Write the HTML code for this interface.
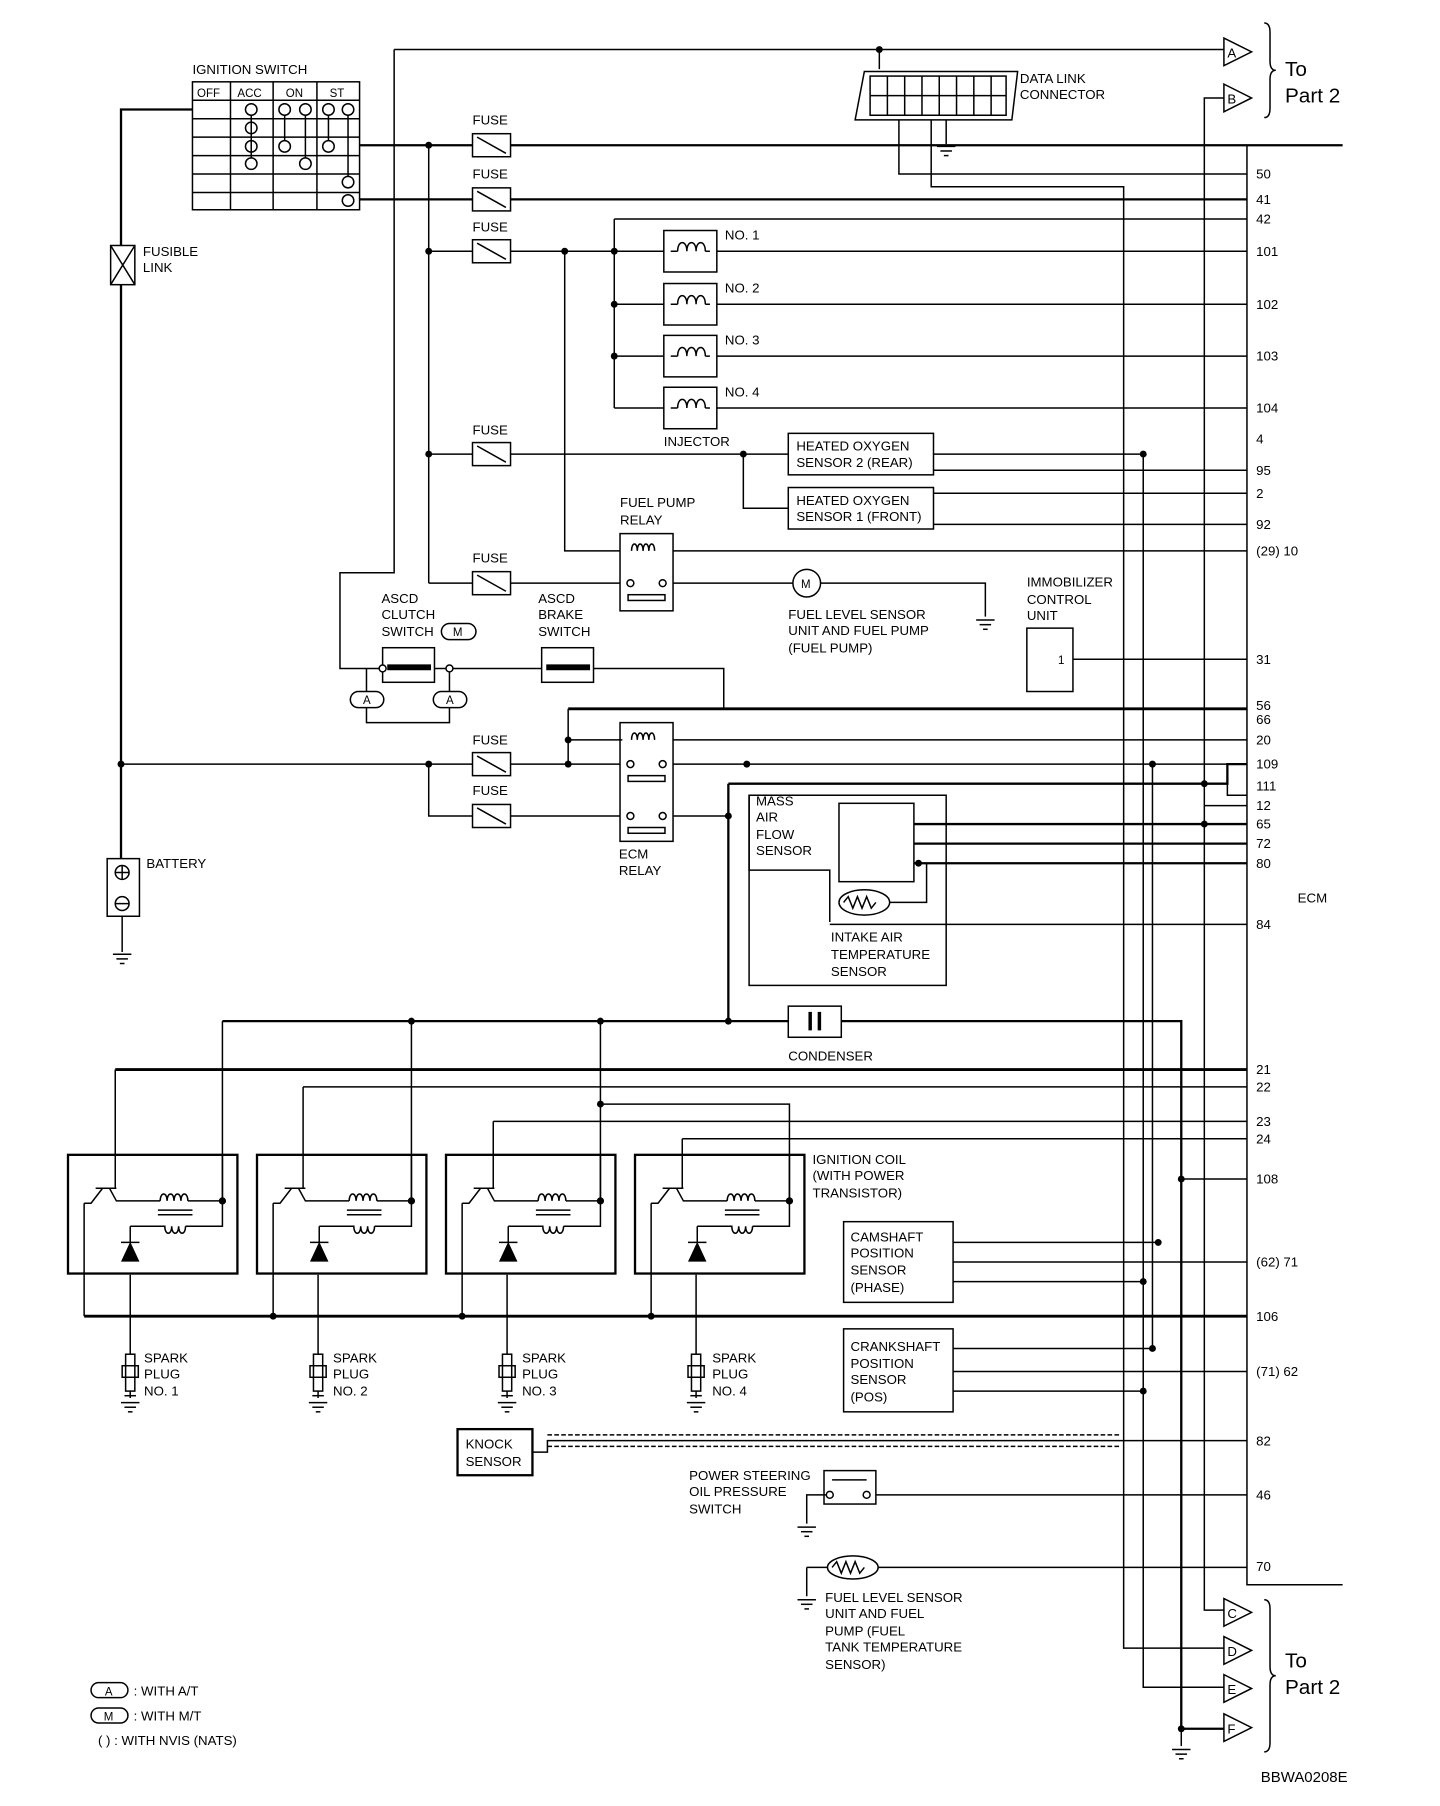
<!DOCTYPE html>
<html><head><meta charset="utf-8"><style>
html,body{margin:0;padding:0;background:#fff}
svg{display:block}
text{font-family:"Liberation Sans",Arial,sans-serif;font-size:11.5px;fill:#000}
.b{font-size:18px}
</style></head><body>
<svg width="1440" height="1806" viewBox="0 0 1249.5 1567" preserveAspectRatio="none" xmlns="http://www.w3.org/2000/svg">
<defs>
<g id="fuse"><rect x="0" y="-10" width="33" height="20" fill="#fff" stroke="#000" stroke-width="1.3"/><line x1="4" y1="-7" x2="29" y2="7" stroke="#000" stroke-width="1.3"/></g>
<g id="inj"><rect x="0" y="-18" width="46" height="36" fill="#fff" stroke="#000" stroke-width="1.3"/><path d="M6,0 H12 M12,0 c0,-10 8,-10 8,0 c0,-10 8,-10 8,0 c0,-10 8,-10 8,0 M36,0 H40" fill="none" stroke="#000" stroke-width="1.3"/></g>
<g id="gnd" stroke="#000" stroke-width="1.3"><line x1="-8" y1="0" x2="8" y2="0"/><line x1="-5" y1="4" x2="5" y2="4"/><line x1="-2" y1="8" x2="2" y2="8"/></g>
<g id="coil" stroke="#000" stroke-width="1.3" fill="none">
<rect x="0" y="0" width="147" height="103" stroke-width="2"/>
<path d="M14,42 H20 L30,29 M24,29 H42 M36,29 L42,40 H80"/>
<path d="M80,40 c0,-8 6,-8 6,0 c0,-8 6,-8 6,0 c0,-8 6,-8 6,0 c0,-8 6,-8 6,0 M104,40 H134"/>
<line x1="78" y1="48" x2="108" y2="48"/><line x1="78" y1="52" x2="108" y2="52"/>
<path d="M54,62 H84 c0,8 6,8 6,0 c0,8 6,8 6,0 c0,8 6,8 6,0 M102,62 H134 V0"/>
<path d="M54,62 V76"/><line x1="46" y1="76" x2="62" y2="76"/>
<polygon points="54,77 47,92 61,92" fill="#000"/>
<circle cx="134" cy="40" r="2.5" fill="#000"/>
</g>
<g id="plug" stroke="#000" stroke-width="1.3" fill="none"><rect x="-4" y="0" width="8" height="32"/><rect x="-7" y="10" width="14" height="10"/><line x1="0" y1="32" x2="0" y2="38"/><line x1="-5" y1="36" x2="5" y2="36"/><use href="#gnd" y="42"/></g>
<path id="tri" d="M0,0 L24,12 L0,24 Z" fill="#fff" stroke="#000" stroke-width="1.3"/>
</defs>
<g stroke="#000" stroke-width="1.3" fill="none">
<rect x="167" y="71" width="145" height="111"/>
<line x1="167" y1="87" x2="312" y2="87"/>
<path d="M200,71V182M237,71V182M275,71V182M167,103H312M167,119H312M167,135H312M167,151H312M167,167H312"/>
<circle cx="218" cy="95" r="5"/><circle cx="247" cy="95" r="5"/><circle cx="265" cy="95" r="5"/><circle cx="285" cy="95" r="5"/><circle cx="302" cy="95" r="5"/>
<circle cx="218" cy="111" r="5"/><circle cx="218" cy="127" r="5"/><circle cx="247" cy="127" r="5"/><circle cx="285" cy="127" r="5"/><circle cx="218" cy="142" r="5"/><circle cx="265" cy="142" r="5"/><circle cx="302" cy="158" r="5"/><circle cx="302" cy="174" r="5"/>
<path d="M218,100V137M247,100V122M265,100V137M285,100V122M302,100V153"/>
<path d="M167,95H105V745" stroke-width="2"/>
<rect x="96" y="213" width="21" height="34" fill="#fff"/><path d="M96,213L117,247M117,213L96,247"/>
<rect x="93" y="745" width="28" height="50" fill="#fff"/>
<circle cx="106" cy="757" r="6"/><circle cx="106" cy="784" r="6"/><path d="M100,757h12M106,751v12M100,784h12"/>
<path d="M106,795V826"/><use href="#gnd" x="106" y="828"/>
<path d="M105,663H410"/>
<path d="M312,126H410M312,173H410" stroke-width="2"/>
<path d="M372,126V506M372,218H410M372,394H410M372,506H410M372,663V708H410"/>
<use href="#fuse" x="410" y="126"/><use href="#fuse" x="410" y="173"/><use href="#fuse" x="410" y="218"/><use href="#fuse" x="410" y="394"/><use href="#fuse" x="410" y="506"/><use href="#fuse" x="410" y="663"/><use href="#fuse" x="410" y="708"/>
<path d="M443,126H1165M443,173H1082" stroke-width="2"/>
<path d="M1082,126V1375H1165"/>
<path d="M443,218H576M533,190V354M533,190H1082M533,264H576M533,309H576M533,354H576"/>
<path d="M622,218H1082M622,264H1082M622,309H1082M622,354H1082"/>
<use href="#inj" x="576" y="218"/><use href="#inj" x="576" y="264"/><use href="#inj" x="576" y="309"/><use href="#inj" x="576" y="354"/>
<path d="M443,394H684M645,394V441H684"/>
<rect x="684" y="376" width="126" height="36" fill="#fff"/><rect x="684" y="423" width="126" height="36" fill="#fff"/>
<path d="M810,394H992M810,408H1082M810,428H1082M810,455H1082"/>
<path d="M490,218V478H540M443,506H540"/>
<rect x="538" y="463" width="46" height="67" fill="#fff"/>
<path d="M548,478c0,-8 5,-8 5,0c0,-8 5,-8 5,0c0,-8 5,-8 5,0c0,-8 5,-8 5,0"/><rect x="545" y="516" width="32" height="5"/><circle cx="547" cy="506" r="3"/><circle cx="575" cy="506" r="3"/>
<path d="M584,478H1082M584,506H688M712,506H855V535"/>
<circle cx="700" cy="506" r="12" fill="#fff"/><use href="#gnd" x="855" y="538"/>
<rect x="891" y="545" width="40" height="55"/><path d="M931,572H1082"/>
<path d="M342,43H1062M342,43V497H295V580H332M377,580H470M515,580H628V615H1082"/>
<rect x="332" y="562" width="45" height="30"/><rect x="470" y="562" width="45" height="30"/>
<path d="M336,579h38M474,579h38" stroke-width="5"/>
<circle cx="332" cy="580" r="3" fill="#fff"/><circle cx="390" cy="580" r="3" fill="#fff"/>
<path d="M318,580V600M390,583V600M318,614V627H390V614"/>
<rect x="304" y="600" width="29" height="14" rx="7"/><rect x="376" y="600" width="29" height="14" rx="7"/>
<rect x="383" y="541" width="30" height="14" rx="7"/>
<path d="M763,43V60"/>
<path d="M750,62H883L878,104H742Z"/>
<rect x="755" y="66" width="118" height="34"/><path d="M755,83H873M770,66V100M785,66V100M800,66V100M815,66V100M830,66V100M845,66V100M860,66V100"/>
<path d="M780,104V151H1082M808,104V162H975V1430H1062M821,104V125"/><use href="#gnd" x="821" y="127"/>
<path d="M1062,85H1045V1397H1062"/>
<path d="M493,615V663M443,663H540M584,663H1082M443,708H540M584,708H632" />
<path d="M493,615H1082" stroke-width="2.5"/>
<rect x="538" y="627" width="46" height="103" fill="#fff"/>
<path d="M548,642c0,-8 5,-8 5,0c0,-8 5,-8 5,0c0,-8 5,-8 5,0c0,-8 5,-8 5,0M493,642H540M584,642H1082"/>
<circle cx="547" cy="663" r="3"/><circle cx="575" cy="663" r="3"/><rect x="545" y="673" width="32" height="5"/>
<circle cx="547" cy="708" r="3"/><circle cx="575" cy="708" r="3"/><rect x="545" y="718" width="32" height="5"/>
<path d="M632,680V886M632,680H1065V663H1082" stroke-width="2"/>
<path d="M1000,663V1170M1065,680V690H1082"/>
<rect x="650" y="690" width="171" height="165"/><rect x="728" y="697" width="65" height="68"/>
<path d="M650,690V755H720V800"/>
<path d="M793,715H1082M793,732H1082M793,749H1082" stroke-width="2"/>
<ellipse cx="750" cy="783" rx="22" ry="11"/><path d="M732,783l4,-5l4,10l4,-10l4,10l4,-10l4,10l4,-5"/>
<path d="M772,783H804V749M720,802H1082"/>
<path d="M193,886H684M730,886H1025V1500H1062" stroke-width="2"/>
<rect x="684" y="873" width="46" height="27"/><path d="M703,878v16M711,878v16" stroke-width="3"/>
<use href="#coil" x="59" y="1002"/><use href="#coil" x="223" y="1002"/><use href="#coil" x="387" y="1002"/><use href="#coil" x="551" y="1002"/>
<path d="M100,928H1082" stroke-width="2.5"/><path d="M100,928V1031M263,943V1031M263,943H1082M428,973V1031M428,973H1082M592,988V1031M592,988H1082"/>
<path d="M193,886V1040M357,886V1040M521,886V1040M521,958H685V1040"/>
<path d="M73,1044V1142M237,1044V1142M401,1044V1142M565,1044V1142"/>
<path d="M73,1142H1082" stroke-width="2.5"/>
<path d="M113,1106V1175M276,1106V1175M440,1106V1175M604,1106V1175"/>
<use href="#plug" x="113" y="1175"/><use href="#plug" x="276" y="1175"/><use href="#plug" x="440" y="1175"/><use href="#plug" x="604" y="1175"/>
<rect x="732" y="1060" width="95" height="70"/><rect x="732" y="1153" width="95" height="72"/>
<path d="M827,1078H1005M827,1095H1082M827,1112H992M827,1170H1000M827,1190H1082M827,1207H992"/>
<path d="M992,394V1464H1062"/>
<rect x="397" y="1240" width="65" height="40" stroke-width="2"/>
<path d="M462,1260H475V1250H1082"/><path d="M475,1245H972M475,1255H972" stroke-dasharray="4,2"/>
<rect x="715" y="1276" width="45" height="29"/><path d="M722,1284h30"/><circle cx="720" cy="1297" r="3"/><circle cx="752" cy="1297" r="3"/>
<path d="M760,1297H1082M717,1297H700V1322"/><use href="#gnd" x="700" y="1325"/>
<path d="M700,1360H718M762,1360H1082M700,1360V1385"/><use href="#gnd" x="700" y="1388"/>
<ellipse cx="740" cy="1360" rx="22" ry="10"/><path d="M722,1360l4,-5l4,10l4,-10l4,10l4,-10l4,10l4,-5"/>
<path d="M1025,1500V1515"/><use href="#gnd" x="1025" y="1518"/>
<path d="M1097,20q5,0 5,8v25q0,8 5,8q-5,0 -5,8v25q0,8 -5,8"/>
<path d="M1097,1388q5,0 5,8v50q0,8 5,8q-5,0 -5,8v50q0,8 -5,8"/>
<rect x="79" y="1460" width="32" height="13" rx="6.5"/><rect x="79" y="1482" width="32" height="13" rx="6.5"/>
</g>
<g fill="#000">
<circle cx="372" cy="126" r="3"/><circle cx="372" cy="218" r="3"/><circle cx="372" cy="394" r="3"/><circle cx="490" cy="218" r="3"/><circle cx="533" cy="218" r="3"/><circle cx="533" cy="264" r="3"/><circle cx="533" cy="309" r="3"/><circle cx="645" cy="394" r="3"/><circle cx="992" cy="394" r="3"/><circle cx="763" cy="43" r="3"/>
<circle cx="105" cy="663" r="3"/><circle cx="372" cy="663" r="3"/><circle cx="493" cy="663" r="3"/><circle cx="493" cy="642" r="3"/><circle cx="648" cy="663" r="3"/><circle cx="1000" cy="663" r="3"/><circle cx="1045" cy="680" r="3"/><circle cx="632" cy="708" r="3"/><circle cx="1045" cy="715" r="3"/><circle cx="797" cy="749" r="3"/>
<circle cx="357" cy="886" r="3"/><circle cx="521" cy="886" r="3"/><circle cx="632" cy="886" r="3"/><circle cx="521" cy="958" r="3"/><circle cx="1025" cy="1023" r="3"/><circle cx="1005" cy="1078" r="3"/><circle cx="992" cy="1112" r="3"/><circle cx="1000" cy="1170" r="3"/><circle cx="992" cy="1207" r="3"/><circle cx="1025" cy="1500" r="3"/>
<circle cx="237" cy="1142" r="3"/><circle cx="401" cy="1142" r="3"/><circle cx="565" cy="1142" r="3"/>
</g>
<path d="M1025,1023H1082" stroke="#000" stroke-width="1.3"/>
<use href="#tri" x="1062" y="33"/><use href="#tri" x="1062" y="73"/><use href="#tri" x="1062" y="1387"/><use href="#tri" x="1062" y="1420"/><use href="#tri" x="1062" y="1453"/><use href="#tri" x="1062" y="1487"/>
<text x="1065" y="50">A</text><text x="1065" y="90">B</text><text x="1065" y="1404">C</text><text x="1065" y="1437">D</text><text x="1065" y="1470">E</text><text x="1065" y="1504">F</text>
<text x="1115" y="66" class="b">To</text><text x="1115" y="89" class="b">Part 2</text>
<text x="1115" y="1447" class="b">To</text><text x="1115" y="1470" class="b">Part 2</text>
<text x="695" y="510" style="font-size:10px">M</text>
<text x="167" y="64">IGNITION SWITCH</text>
<text x="171" y="84" style="font-size:10px">OFF</text><text x="206" y="84" style="font-size:10px">ACC</text><text x="248" y="84" style="font-size:10px">ON</text><text x="286" y="84" style="font-size:10px">ST</text>
<text x="124" y="222">FUSIBLE</text><text x="124" y="236">LINK</text><text x="127" y="753">BATTERY</text>
<text x="410" y="108">FUSE</text><text x="410" y="155">FUSE</text><text x="410" y="201">FUSE</text><text x="410" y="377">FUSE</text><text x="410" y="488">FUSE</text><text x="410" y="646">FUSE</text><text x="410" y="690">FUSE</text>
<text x="885" y="72">DATA LINK</text><text x="885" y="86">CONNECTOR</text>
<text x="629" y="208">NO. 1</text><text x="629" y="254">NO. 2</text><text x="629" y="299">NO. 3</text><text x="629" y="344">NO. 4</text><text x="576" y="387">INJECTOR</text>
<text x="691" y="391">HEATED OXYGEN</text><text x="691" y="405">SENSOR 2 (REAR)</text><text x="691" y="438">HEATED OXYGEN</text><text x="691" y="452">SENSOR 1 (FRONT)</text>
<text x="538" y="440">FUEL PUMP</text><text x="538" y="455">RELAY</text>
<text x="684" y="537">FUEL LEVEL SENSOR</text><text x="684" y="551">UNIT AND FUEL PUMP</text><text x="684" y="566">(FUEL PUMP)</text>
<text x="891" y="509">IMMOBILIZER</text><text x="891" y="524">CONTROL</text><text x="891" y="538">UNIT</text><text x="918" y="576" style="font-size:10px">1</text>
<text x="331" y="523">ASCD</text><text x="331" y="537">CLUTCH</text><text x="331" y="552">SWITCH</text><text x="393" y="552" style="font-size:10px">M</text>
<text x="467" y="523">ASCD</text><text x="467" y="537">BRAKE</text><text x="467" y="552">SWITCH</text>
<text x="315" y="611" style="font-size:10px">A</text><text x="387" y="611" style="font-size:10px">A</text>
<text x="537" y="745">ECM</text><text x="537" y="759">RELAY</text>
<text x="656" y="699">MASS</text><text x="656" y="713">AIR</text><text x="656" y="728">FLOW</text><text x="656" y="742">SENSOR</text>
<text x="721" y="817">INTAKE AIR</text><text x="721" y="832">TEMPERATURE</text><text x="721" y="847">SENSOR</text>
<text x="684" y="920">CONDENSER</text><text x="1126" y="783">ECM</text>
<text x="705" y="1010">IGNITION COIL</text><text x="705" y="1024">(WITH POWER</text><text x="705" y="1039">TRANSISTOR)</text>
<text x="738" y="1077">CAMSHAFT</text><text x="738" y="1091">POSITION</text><text x="738" y="1106">SENSOR</text><text x="738" y="1121">(PHASE)</text>
<text x="738" y="1172">CRANKSHAFT</text><text x="738" y="1187">POSITION</text><text x="738" y="1201">SENSOR</text><text x="738" y="1216">(POS)</text>
<text x="125" y="1182">SPARK</text><text x="125" y="1196">PLUG</text><text x="125" y="1211">NO. 1</text>
<text x="289" y="1182">SPARK</text><text x="289" y="1196">PLUG</text><text x="289" y="1211">NO. 2</text>
<text x="453" y="1182">SPARK</text><text x="453" y="1196">PLUG</text><text x="453" y="1211">NO. 3</text>
<text x="618" y="1182">SPARK</text><text x="618" y="1196">PLUG</text><text x="618" y="1211">NO. 4</text>
<text x="404" y="1257">KNOCK</text><text x="404" y="1272">SENSOR</text>
<text x="598" y="1284">POWER STEERING</text><text x="598" y="1298">OIL PRESSURE</text><text x="598" y="1313">SWITCH</text>
<text x="716" y="1390">FUEL LEVEL SENSOR</text><text x="716" y="1404">UNIT AND FUEL</text><text x="716" y="1419">PUMP (FUEL</text><text x="716" y="1433">TANK TEMPERATURE</text><text x="716" y="1448">SENSOR)</text>
<text x="91" y="1471" style="font-size:10px">A</text><text x="90" y="1493" style="font-size:10px">M</text>
<text x="116" y="1471">: WITH A/T</text><text x="116" y="1493">: WITH M/T</text><text x="85" y="1514">(   )  : WITH NVIS (NATS)</text>
<text x="1094" y="1546" style="font-size:13px">BBWA0208E</text>
<g style="font-size:11px">
<text x="1090" y="155">50</text><text x="1090" y="177">41</text><text x="1090" y="194">42</text><text x="1090" y="222">101</text><text x="1090" y="268">102</text><text x="1090" y="313">103</text><text x="1090" y="358">104</text>
<text x="1090" y="385">4</text><text x="1090" y="412">95</text><text x="1090" y="432">2</text><text x="1090" y="459">92</text><text x="1090" y="482">(29) 10</text><text x="1090" y="576">31</text>
<text x="1090" y="616">56</text><text x="1090" y="628">66</text><text x="1090" y="646">20</text><text x="1090" y="667">109</text><text x="1090" y="686">111</text><text x="1090" y="703">12</text><text x="1090" y="719">65</text><text x="1090" y="736">72</text><text x="1090" y="753">80</text><text x="1090" y="806">84</text>
<text x="1090" y="932">21</text><text x="1090" y="947">22</text><text x="1090" y="977">23</text><text x="1090" y="992">24</text><text x="1090" y="1027">108</text><text x="1090" y="1099">(62) 71</text><text x="1090" y="1146">106</text><text x="1090" y="1194">(71) 62</text><text x="1090" y="1254">82</text><text x="1090" y="1301">46</text><text x="1090" y="1363">70</text>
</g>
<path d="M1045,699H1082" stroke="#000" stroke-width="1.3"/>
</svg>
</body></html>
